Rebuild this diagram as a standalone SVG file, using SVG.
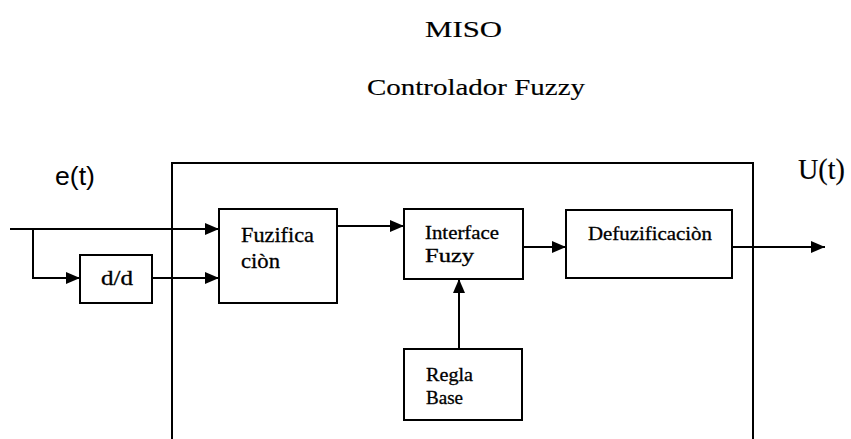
<svg xmlns="http://www.w3.org/2000/svg" width="851" height="439" viewBox="0 0 851 439">
<style>
.box{fill:none;stroke:#000;stroke-width:2}
.ln{fill:none;stroke:#000;stroke-width:2}
.t{font-family:"Liberation Serif","Times New Roman",serif;fill:#000;stroke:#000;stroke-width:0.3}
.h{font-family:"Liberation Serif","Times New Roman",serif;fill:#000;stroke:#000;stroke-width:0.15}
.s{font-family:"Liberation Sans",Arial,sans-serif;fill:#000}
</style>
<defs>
<marker id="ah" markerWidth="14" markerHeight="12" refX="14" refY="6" orient="auto" markerUnits="userSpaceOnUse">
<path d="M0,0 L14,6 L0,12 Z" fill="#000"/>
</marker>
</defs>
<rect width="851" height="439" fill="#fff"/>
<g id="titles">
<text class="h" x="425" y="37" font-size="23" textLength="77" lengthAdjust="spacingAndGlyphs">MISO</text>
<text class="h" x="367" y="95" font-size="23" textLength="218" lengthAdjust="spacingAndGlyphs">Controlador Fuzzy</text>
<text class="s" x="55" y="185" font-size="25" textLength="40" lengthAdjust="spacingAndGlyphs">e(t)</text>
<text class="h" x="798" y="179" font-size="29" textLength="47" lengthAdjust="spacingAndGlyphs">U(t)</text>
</g>
<g id="controller">
<path class="box" d="M172,445 V163 H753 V445"/>
</g>
<g id="dd">
<rect class="box" x="80" y="255" width="72" height="48"/>
<text class="t" x="101" y="285" font-size="20" textLength="32" lengthAdjust="spacingAndGlyphs">d/d</text>
</g>
<g id="fuzificacion">
<rect class="box" x="219" y="209" width="118" height="94"/>
<text class="t" x="241" y="242" font-size="21" textLength="73" lengthAdjust="spacingAndGlyphs">Fuzifica</text>
<text class="t" x="241" y="268" font-size="21" textLength="39" lengthAdjust="spacingAndGlyphs">ciòn</text>
</g>
<g id="interface">
<rect class="box" x="404" y="209" width="119" height="70"/>
<text class="t" x="425" y="239" font-size="18" textLength="74" lengthAdjust="spacingAndGlyphs">Interface</text>
<text class="t" x="425" y="262" font-size="18" textLength="49" lengthAdjust="spacingAndGlyphs">Fuzy</text>
</g>
<g id="defuzificacion">
<rect class="box" x="566" y="210" width="166" height="68"/>
<text class="t" x="588" y="240" font-size="19" textLength="124" lengthAdjust="spacingAndGlyphs">Defuzificaciòn</text>
</g>
<g id="regla">
<rect class="box" x="404" y="349" width="118" height="71"/>
<text class="t" x="426" y="381" font-size="18" textLength="47" lengthAdjust="spacingAndGlyphs">Regla</text>
<text class="t" x="426" y="404" font-size="18" textLength="37" lengthAdjust="spacingAndGlyphs">Base</text>
</g>
<g id="connectors">
<path class="ln" d="M10,229 H219" marker-end="url(#ah)"/>
<path class="ln" d="M33,229 V278 H80" marker-end="url(#ah)"/>
<path class="ln" d="M152,278 H219" marker-end="url(#ah)"/>
<path class="ln" d="M337,226 H404" marker-end="url(#ah)"/>
<path class="ln" d="M523,247 H566" marker-end="url(#ah)"/>
<path class="ln" d="M732,247 H825" marker-end="url(#ah)"/>
<path class="ln" d="M459,349 V279" marker-end="url(#ah)"/>
</g>
</svg>
